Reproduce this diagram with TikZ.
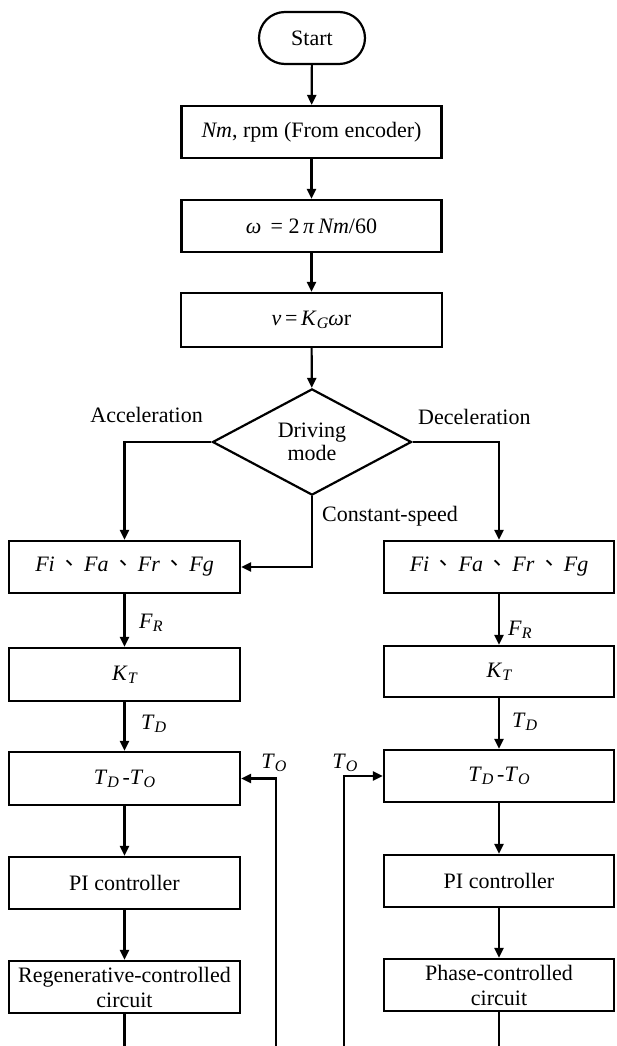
\documentclass[tikz,border=0pt]{standalone}
\usepackage{fontspec}
\setmainfont{Liberation Serif}
\newfontfamily\cjk{Noto Sans CJK TC}
\usetikzlibrary{arrows.meta,shapes.geometric}
\newcommand\sbs[1]{\raisebox{-0.3ex}{\fontsize{16}{16}\selectfont\itshape #1}}
\newcommand\dun{\,{\cjk 、}\,}
\begin{document}
\begin{tikzpicture}[x=1pt,y=-1pt, font=\fontsize{22}{25}\selectfont,
  box/.style={draw, line width=2.2pt, minimum height=52pt, inner sep=0pt, align=center},
  arr/.style={line width=2.2pt, -{Triangle[length=10pt,width=9pt]}},
  ln/.style={line width=2.2pt},
  lbl/.style={inner sep=0pt}]
\useasboundingbox (0,0) rectangle (616,1046);

% main column
\node[box, rounded corners=26pt, minimum width=106pt] (start) at (312,38) {Start};
\node[box, minimum width=260pt] (b1) at (311.5,132) {\textit{Nm}, rpm (From encoder)};
\node[box, minimum width=260pt] (b2) at (311.5,226) {\textit{ω}\, = 2\,\textit{π}\,\textit{Nm}/60};
\node[box, minimum width=261pt, minimum height=54pt] (b3) at (311.5,320) {\textit{v}\,=\,\textit{K}\sbs{G}\textit{ω}r};
\node[draw, diamond, line width=2.2pt, minimum width=199pt, minimum height=104pt, inner sep=0pt, align=center] (dm) at (312,442) {Driving\\[-2pt]mode};

% left column
\node[box, minimum width=231pt] (fl) at (124.5,567) {\textit{Fi}\dun\textit{Fa}\dun\textit{Fr}\dun\textit{Fg}};
\node[box, minimum width=231pt, minimum height=53pt] (kl) at (124.5,674.5) {\textit{K}\sbs{T}};
\node[box, minimum width=231pt, minimum height=53pt] (tl) at (124.5,778.5) {\textit{T}\sbs{D}\,-\textit{T}\sbs{O}};
\node[box, minimum width=231pt] (pl) at (124.5,883) {PI controller};
\node[box, minimum width=231pt] (rl) at (124.5,987) {Regenerative-controlled\\circuit};

% right column
\node[box, minimum width=230pt] (fr) at (499,567) {\textit{Fi}\dun\textit{Fa}\dun\textit{Fr}\dun\textit{Fg}};
\node[box, minimum width=230pt, minimum height=51pt] (kr) at (499,671.5) {\textit{K}\sbs{T}};
\node[box, minimum width=230pt] (tr) at (499,776) {\textit{T}\sbs{D}\,-\textit{T}\sbs{O}};
\node[box, minimum width=230pt] (pr) at (499,881) {PI controller};
\node[box, minimum width=230pt] (rr) at (499,985) {Phase-controlled\\circuit};

% bottom ends
\coordinate (lb) at (124.5,1046);
\coordinate (rb) at (499,1046);
\coordinate (fbl) at (276,1046);
\coordinate (fbr) at (344,1046);

% connectors
\draw[arr] (start) -- (b1);
\draw[arr] (b1) -- (b2);
\draw[arr] (b2) -- (b3);
\draw[arr] (b3) -- (dm);
\draw[arr] (dm.west) -| (fl.north);
\draw[arr] (dm.east) -| (fr.north);
\draw[arr] (dm.south) |- (fl.east);
\draw[arr] (fl) -- (kl);
\draw[arr] (kl) -- (tl);
\draw[arr] (tl) -- (pl);
\draw[arr] (pl) -- (rl);
\draw[ln] (rl.south) -- (lb);
\draw[arr] (fr) -- (kr);
\draw[arr] (kr) -- (tr);
\draw[arr] (tr) -- (pr);
\draw[arr] (pr) -- (rr);
\draw[ln] (rr.south) -- (rb);
\draw[arr] (fbl) |- (tl.east);
\draw[arr] (fbr) |- (tr.west);

% labels
\node[lbl, anchor=east] (acc) at (203,415) {Acceleration};
\node[lbl, anchor=west] (dec) at (418,417) {Deceleration};
\node[lbl, anchor=west] (cs) at (322,516) {Constant-speed};
\node[lbl, anchor=west] (frl) at (139,623) {\textit{F}\sbs{R}};
\node[lbl, anchor=west] (tdl) at (141,724) {\textit{T}\sbs{D}};
\node[lbl, anchor=west] (frr) at (508,630) {\textit{F}\sbs{R}};
\node[lbl, anchor=west] (tdr) at (512,722) {\textit{T}\sbs{D}};
\node[lbl] (tol) at (274,763) {\textit{T}\sbs{O}};
\node[lbl] (tor) at (345,763) {\textit{T}\sbs{O}};
\end{tikzpicture}
\end{document}
